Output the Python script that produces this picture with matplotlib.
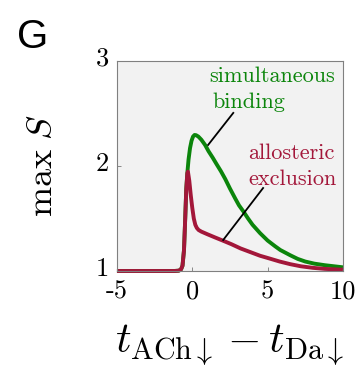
import matplotlib
matplotlib.use("Agg")
import matplotlib.pyplot as plt
import matplotlib.transforms as mtrans

plt.rcParams['mathtext.fontset'] = 'cm'

# simultaneous binding (green)
sim_x = [-5, -1.2, -0.9, -0.75, -0.65, -0.55, -0.47, -0.4, -0.33, -0.25, -0.15, -0.05, 0.05, 0.15,
         0.25, 0.4, 0.6, 0.85, 1.08, 1.35, 1.6, 1.9, 2.19, 2.5, 2.85, 3.1, 3.4, 3.7, 4.0, 4.5,
         5.0, 5.5, 5.84, 6.5, 7.0, 7.5, 8.1, 8.8, 9.4, 10]
sim_y = [1.0, 1.0, 1.003, 1.015, 1.05, 1.2, 1.5, 1.78, 1.93, 2.06, 2.17, 2.24, 2.28, 2.295,
         2.293, 2.28, 2.25, 2.2, 2.14, 2.08, 2.02, 1.95, 1.875, 1.785, 1.69, 1.625, 1.565, 1.5, 1.44, 1.36,
         1.29, 1.235, 1.2, 1.15, 1.115, 1.09, 1.07, 1.055, 1.045, 1.035]

# allosteric exclusion (red)
allo_x = [-5, -1.2, -0.9, -0.75, -0.65, -0.55, -0.47, -0.4, -0.33, -0.29, -0.2, -0.1, 0.0, 0.1,
          0.2, 0.3, 0.42, 0.6, 1.0, 1.5, 2.1, 2.6, 3.2, 3.85, 4.5, 5.1, 5.8, 6.5, 7.2, 8.0, 8.8, 10]
allo_y = [1.0, 1.0, 1.003, 1.015, 1.05, 1.2, 1.5, 1.78, 1.93, 1.946, 1.86, 1.72, 1.6, 1.5,
          1.44, 1.41, 1.39, 1.375, 1.35, 1.32, 1.285, 1.255, 1.215, 1.18, 1.145, 1.12, 1.09, 1.065,
          1.045, 1.03, 1.02, 1.012]

xticks = [-5, 0, 5, 10]
yticks = [1, 2, 3]

green = '#0b850b'
red = '#a3173a'

fig = plt.figure(figsize=(3.61, 3.67), dpi=100)
ax = fig.add_axes([0.324, 0.2616, 0.626, 0.5724])
ax.set_facecolor('#f2f2f2')

ax.plot(sim_x, sim_y, color=green, lw=2.8, clip_on=False, solid_capstyle='butt')
ax.plot(allo_x, allo_y, color=red, lw=2.8, clip_on=False, solid_capstyle='butt')

ax.set_xlim(-5, 10)
ax.set_ylim(1, 3)
ax.set_xticks(xticks)
ax.set_yticks(yticks)
ax.set_xticklabels([str(t) for t in xticks], fontfamily='cmr10', fontsize=19)
ax.set_yticklabels([str(t) for t in yticks], fontfamily='cmr10', fontsize=19)
ax.tick_params(direction='in', length=3, width=0.6, color='#777777', pad=6)
up = mtrans.ScaledTranslation(0, 4.5 / 100, fig.dpi_scale_trans)
for lab in ax.get_yticklabels():
    lab.set_transform(lab.get_transform() + up)
for s in ax.spines.values():
    s.set_color('#808080')
    s.set_linewidth(0.8)

# labels with pointer lines
ax.text(1.11, 2.803, 'simultaneous', color=green, fontfamily='cmr10', fontsize=16, va='baseline', ha='left')
ax.text(1.31, 2.552, 'binding', color=green, fontfamily='cmr10', fontsize=16, va='baseline', ha='left')
ax.plot([2.72, 1.05], [2.505, 2.2], color='black', lw=1.3)
ax.text(3.7, 2.064, 'allosteric', color=red, fontfamily='cmr10', fontsize=16, va='baseline', ha='left')
ax.text(3.7, 1.819, 'exclusion', color=red, fontfamily='cmr10', fontsize=16, va='baseline', ha='left')
ax.plot([4.7, 2.05], [1.79, 1.295], color='black', lw=1.3)

ax.set_xlabel(r'$t_{\mathrm{ACh}\downarrow} - t_{\mathrm{Da}\downarrow}$', fontsize=31, labelpad=14)
ax.set_ylabel(r'$\max\ S$', fontsize=26, labelpad=26)

fig.text(0.048, 0.898, 'G', fontfamily='Liberation Sans', fontsize=29, va='center', ha='left')

fig.savefig('out.png', dpi=100)
